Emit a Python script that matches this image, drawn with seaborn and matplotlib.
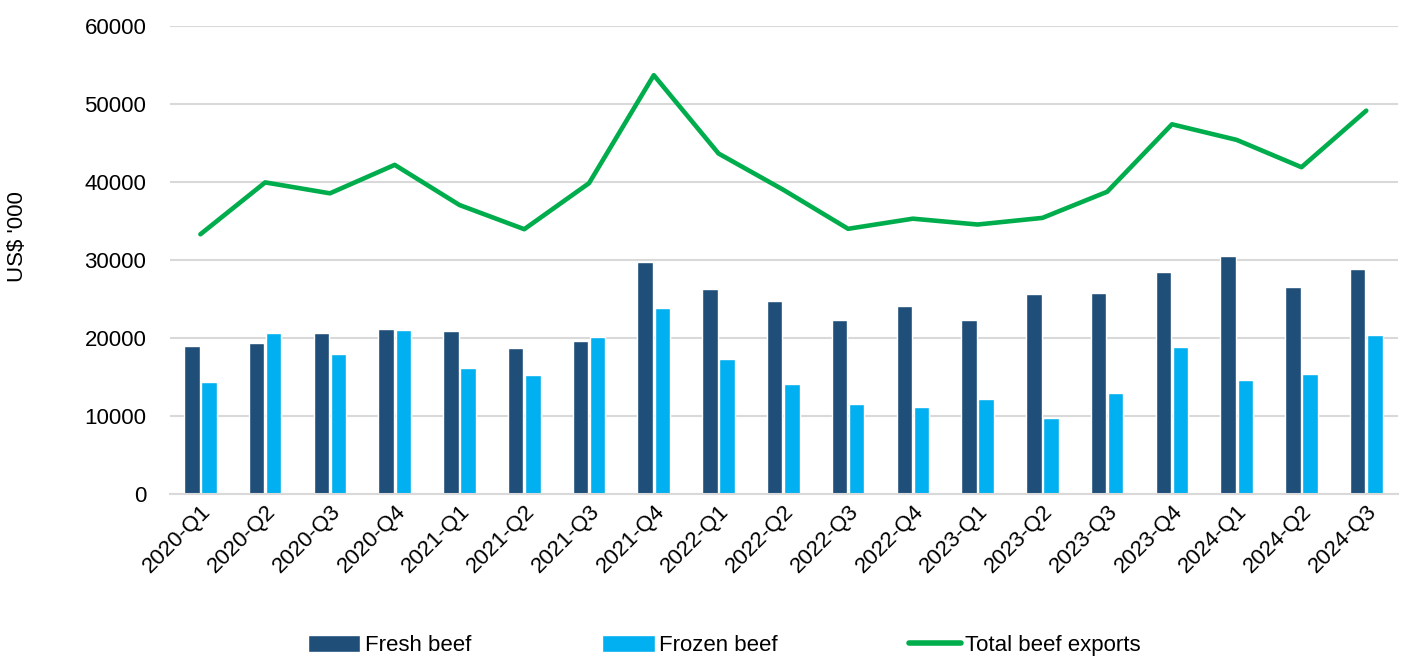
import numpy as np
import pandas as pd
import matplotlib
matplotlib.use("Agg")
import matplotlib.pyplot as plt
import seaborn as sns
from matplotlib.patches import Patch
from matplotlib.lines import Line2D

# quarterly beef exports, US$ '000
quarters = ["2020-Q1", "2020-Q2", "2020-Q3", "2020-Q4",
            "2021-Q1", "2021-Q2", "2021-Q3", "2021-Q4",
            "2022-Q1", "2022-Q2", "2022-Q3", "2022-Q4",
            "2023-Q1", "2023-Q2", "2023-Q3", "2023-Q4",
            "2024-Q1", "2024-Q2", "2024-Q3"]
fresh_beef = [19000, 19300, 20600, 21150, 20850, 18700, 19600, 29700,
              26300, 24800, 22300, 24150, 22250, 25600, 25750, 28400,
              30550, 26500, 28800]
frozen_beef = [14300, 20600, 17900, 20980, 16150, 15200, 20130, 23900,
               17300, 14150, 11600, 11100, 12200, 9750, 13000, 18900,
               14600, 15350, 20350]
total_exports = [33300, 39950, 38550, 42200, 37050, 33950, 39850, 53700,
                 43650, 39000, 34000, 35300, 34550, 35400, 38750, 47400,
                 45400, 41900, 49150]

# colours
fresh_col = "#1F4E79"
frozen_col = "#00B0F0"
total_col = "#00AD4C"
grid_col = "#D9D9D9"

sns.set_theme(style="white")
plt.rcParams['font.family'] = ['Liberation Sans', 'DejaVu Sans']
plt.rcParams['text.color'] = 'black'
plt.rcParams['axes.labelcolor'] = 'black'
fs = 16

# long table for the bars
bars = pd.DataFrame({
    "quarter": quarters * 2,
    "value": fresh_beef + frozen_beef,
    "type": ["Fresh beef"] * len(quarters) + ["Frozen beef"] * len(quarters),
})
line = pd.DataFrame({"pos": np.arange(len(quarters)), "value": total_exports})

fig = plt.figure(figsize=(14.07, 6.59), dpi=100)
ax = fig.add_axes([0.1208, 0.2504, 0.8728, 0.7101])

sns.barplot(data=bars, x="quarter", y="value", hue="type",
            palette={"Fresh beef": fresh_col, "Frozen beef": frozen_col},
            width=0.53, gap=0.1, saturation=1, legend=False, ax=ax)
sns.lineplot(data=line, x="pos", y="value", color=total_col, linewidth=3.3,
             ax=ax, zorder=4)

ax.set_ylim(0, 60000)
ax.set_xlim(-0.47, 18.49)
ax.set_yticks(np.arange(0, 60001, 10000))
ax.yaxis.grid(True, color=grid_col, linewidth=1.5)
ax.set_axisbelow(True)
for s in ["top", "right", "left"]:
    ax.spines[s].set_visible(False)
ax.spines["bottom"].set_color(grid_col)
ax.spines["bottom"].set_linewidth(1.5)

ax.tick_params(axis="both", length=0, labelsize=fs, colors="black")
ax.tick_params(axis="y", pad=17)
ax.set_xticks(np.arange(len(quarters)))
ax.set_xticklabels(quarters, rotation=45, ha="right", rotation_mode="anchor")
ax.tick_params(axis="x", pad=5)

ax.set_xlabel("")
ax.set_ylabel("US$ '000", fontsize=fs)
ax.yaxis.set_label_coords(-0.116, 0.55)

# legend at the bottom
handles = [Patch(facecolor=fresh_col, label="Fresh beef"),
           Patch(facecolor=frozen_col, label="Frozen beef"),
           Line2D([0], [0], color=total_col, linewidth=4, label="Total beef exports")]
fig.legend(handles=handles, loc="center", bbox_to_anchor=(0.515, 0.02),
           ncol=3, frameon=False, fontsize=fs, handlelength=2.35,
           handleheight=0.8, handletextpad=0.2, columnspacing=5.9)

plt.savefig("out.png", dpi=100)
